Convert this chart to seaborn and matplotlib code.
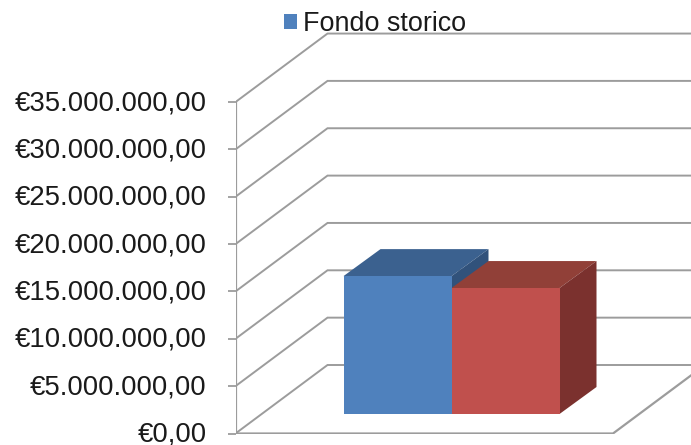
import matplotlib
matplotlib.use('Agg')
import matplotlib.pyplot as plt
from matplotlib.patches import Patch, Polygon
from matplotlib.transforms import ScaledTranslation
import pandas as pd
import seaborn as sns

# Data
CATEGORIES = ['A', 'B']
VALUES = [14560000, 13300000]
TICKS = [0, 5000000, 10000000, 15000000, 20000000, 25000000, 30000000, 35000000]
TICK_LABELS = ['€0,00', '€5.000.000,00', '€10.000.000,00', '€15.000.000,00',
               '€20.000.000,00', '€25.000.000,00', '€30.000.000,00', '€35.000.000,00']
LEGEND_LABEL = 'Fondo storico'

# Colours: front, top, side
BAR_COLORS = ['#4F81BD', '#C0504D']
TOP_COLORS = ['#3B618F', '#914038']
SIDE_COLORS = ['#31527B', '#7B312E']
LINE_COLOR = '#9C9C9C'

# Fake 3D geometry, in pixels
W, H = 691, 445
AXIS_LEFT = 235.5
ZERO_Y = 433.5
PX_PER_UNIT_Y = 47.35 / 5000000
PX_PER_CAT = 108.0
BAR_START = 343.5
WALL_DX, WALL_DY = 92.0, 68.5
BAR_DX, BAR_DY = 37.0, 27.0
BAR_LIFT = 19.5
FLOOR_RIGHT = 613.0

sns.set_style('white')
plt.rcParams['font.family'] = ['Liberation Sans', 'DejaVu Sans']

fig = plt.figure(figsize=(W / 100, H / 100), dpi=100)
ax = fig.add_axes([AXIS_LEFT / W, (H - ZERO_Y) / H, 1 - AXIS_LEFT / W, ZERO_Y / H])

df = pd.DataFrame({'cat': CATEGORIES, 'val': VALUES})
sns.barplot(data=df, x='cat', y='val', hue='cat', palette=BAR_COLORS, legend=False,
            width=1.0, gap=0, saturation=1, ax=ax, zorder=3, linewidth=0)

x_left = -0.5 - (BAR_START - AXIS_LEFT) / PX_PER_CAT
ax.set_xlim(x_left, x_left + (W - AXIS_LEFT) / PX_PER_CAT)
ax.set_ylim(0, ZERO_Y / PX_PER_UNIT_Y)

wall_dx = WALL_DX / PX_PER_CAT
wall_dy = WALL_DY / PX_PER_UNIT_Y
bar_dx = BAR_DX / PX_PER_CAT
bar_dy = BAR_DY / PX_PER_UNIT_Y
lift = BAR_LIFT / PX_PER_UNIT_Y
x_right = ax.get_xlim()[1]

# Walls and floor
for t in TICKS:
    ax.plot([x_left, x_left + wall_dx, x_right], [t, t + wall_dy, t + wall_dy],
            color=LINE_COLOR, lw=1.4, zorder=1, solid_joinstyle='miter')
ax.plot([x_left, x_left], [0, TICKS[-1]], color=LINE_COLOR, lw=1.6, zorder=2)
floor_x = x_left + (FLOOR_RIGHT - AXIS_LEFT) / PX_PER_CAT
ax.plot([x_left, floor_x, floor_x + wall_dx], [0, 0, wall_dy],
        color=LINE_COLOR, lw=1.6, zorder=2, solid_joinstyle='miter')

# Bars stand on the floor, with top and side faces built from each bar
bars = list(ax.patches)
for i, bar in enumerate(bars):
    bar.set_y(lift)
    bar.set_zorder(5)
    x0 = bar.get_x()
    x1 = x0 + bar.get_width()
    top = lift + bar.get_height()
    # later bar sits over the earlier one's side
    ax.add_patch(Polygon([(x0, top), (x1, top), (x1 + bar_dx, top + bar_dy), (x0 + bar_dx, top + bar_dy)],
                         closed=True, fc=TOP_COLORS[i], ec='none', zorder=3 + i))
    ax.add_patch(Polygon([(x1, lift), (x1, top), (x1 + bar_dx, top + bar_dy), (x1 + bar_dx, lift + bar_dy)],
                         closed=True, fc=SIDE_COLORS[i], ec='none', zorder=3 + i))

ax.set_xticks([])
ax.set_yticks(TICKS)
ax.set_yticklabels(TICK_LABELS, fontsize=19.8, color='#1a1a1a')
ax.tick_params(axis='y', left=True, length=5.8, width=1.3, color=LINE_COLOR, pad=15)
# labels sit a little above their ticks
shift = ScaledTranslation(0, 2 / 72 * 72 / 100, fig.dpi_scale_trans)
for lab in ax.get_yticklabels():
    lab.set_transform(lab.get_transform() + shift)
ax.set_xlabel('')
ax.set_ylabel('')
sns.despine(ax=ax, left=True, bottom=True)

fig.legend(handles=[Patch(fc=BAR_COLORS[0], ec='none', label=LEGEND_LABEL)],
           loc='upper left', bbox_to_anchor=(273 / W, 1), frameon=False,
           fontsize=19.4, labelcolor='#1a1a1a', handlelength=0.48, handleheight=0.48,
           handletextpad=0.22, borderpad=0.4, borderaxespad=0)

fig.savefig('out.png', dpi=100)
plt.close(fig)
